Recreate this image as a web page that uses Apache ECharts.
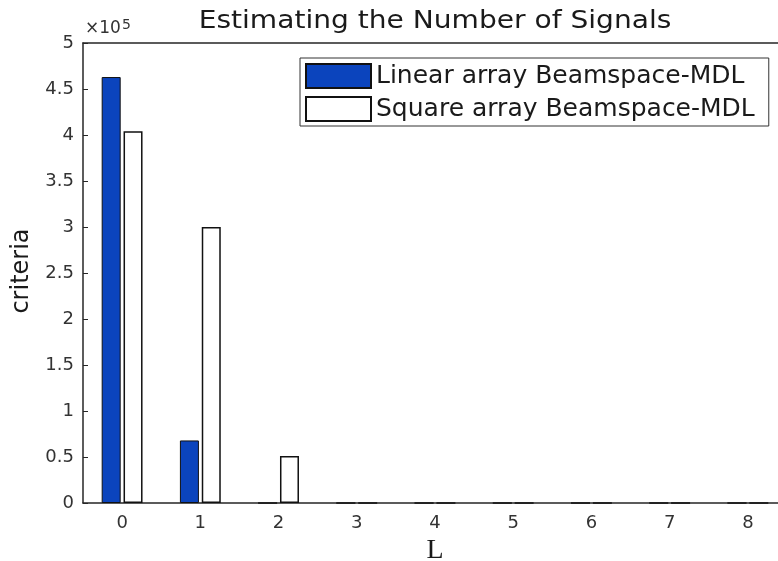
<!DOCTYPE html>
<html><head><meta charset="utf-8">
<script src="https://cdn.jsdelivr.net/npm/echarts@6/dist/echarts.min.js"></script>
<style>html,body{margin:0;padding:0;background:#fff}#c{width:778px;height:561px}</style>
</head><body><div id="c"></div>
<script>
const categories = ['0','1','2','3','4','5','6','7','8'];
const linearMDL = [463000, 68000, 0, 0, 0, 0, 0, 0, 0];
const squareMDL = [404000, 300000, 51000, 0, 0, 0, 0, 0, 0];
const seriesNames = ['Linear array Beamspace-MDL', 'Square array Beamspace-MDL'];
const titleText = 'Estimating the Number of Signals';
const yTitle = 'criteria';
const xTitle = 'L';

const chart = echarts.init(document.getElementById('c'));
const axisCol = '#262626';
const font = 'DejaVu Sans, Liberation Sans, sans-serif';
chart.setOption({
  animation: false,
  legend: {
    orient: 'vertical', left: 300, top: 58,
    padding: [5, 14, 4, 5], itemGap: 7,
    itemWidth: 65, itemHeight: 24, icon: 'rect',
    borderColor: '#333', borderWidth: 1,
    textStyle: {fontFamily: font, fontSize: 25, color: '#1a1a1a'},
    data: seriesNames
  },
  grid: {left: 83, right: -9, top: 43, bottom: 58, containLabel: false, outerBoundsMode: 'none'},
  xAxis: [{
    type: 'category', data: categories, position: 'bottom',
    name: xTitle, nameLocation: 'middle', nameGap: 31,
    nameTextStyle: {fontFamily: 'Liberation Serif, DejaVu Serif, serif', fontSize: 28, color: '#1a1a1a'},
    axisLine: {lineStyle: {color: axisCol, width: 1.5}},
    axisTick: {inside: true, alignWithLabel: true, length: 5, lineStyle: {color: axisCol}},
    axisLabel: {fontFamily: font, fontSize: 18, color: '#333', margin: 11}
  }, {
    type: 'category', data: categories, position: 'top',
    axisLine: {lineStyle: {color: axisCol, width: 1.5}},
    axisTick: {inside: true, alignWithLabel: true, length: 5, lineStyle: {color: axisCol}},
    axisLabel: {show: false}
  }],
  yAxis: [{
    type: 'value', min: 0, max: 500000, interval: 50000,
    name: '×10{sup|5}', nameLocation: 'end', nameGap: 3,
    nameTextStyle: {fontFamily: font, fontSize: 17, color: '#333', align: 'left', padding: [0,0,0,2],
      rich: {sup: {fontSize: 14, verticalAlign: 'top', padding: [0,0,8,1], fontFamily: font, color: '#333'}}},
    axisLine: {show: true, lineStyle: {color: axisCol, width: 1.5}},
    axisTick: {show: true, inside: true, length: 5, lineStyle: {color: axisCol}},
    splitLine: {show: false},
    axisLabel: {fontFamily: font, fontSize: 18, color: '#333', margin: 9,
      formatter: v => String(+(v / 100000).toFixed(1))}
  }],
  graphic: [{
    type: 'text', x: 435, y: 22, scaleX: 1.17,
    style: {text: titleText, font: '24px DejaVu Sans, Liberation Sans, sans-serif', fill: '#1a1a1a',
      align: 'center', verticalAlign: 'middle'}
  }, {
    type: 'text', x: 22, y: 271, rotation: Math.PI / 2,
    style: {text: yTitle, font: '24px DejaVu Sans, Liberation Sans, sans-serif', fill: '#1a1a1a',
      align: 'center', verticalAlign: 'middle'}
  }],
  series: [{
    name: seriesNames[0], type: 'bar', data: linearMDL,
    barWidth: 19, barGap: '15%',
    itemStyle: {color: '#0b44bd', borderColor: '#111', borderWidth: 1}
  }, {
    name: seriesNames[1], type: 'bar', data: squareMDL,
    barWidth: 19,
    itemStyle: {color: '#ffffff', borderColor: '#111', borderWidth: 1.5}
  }]
});
</script></body></html>
